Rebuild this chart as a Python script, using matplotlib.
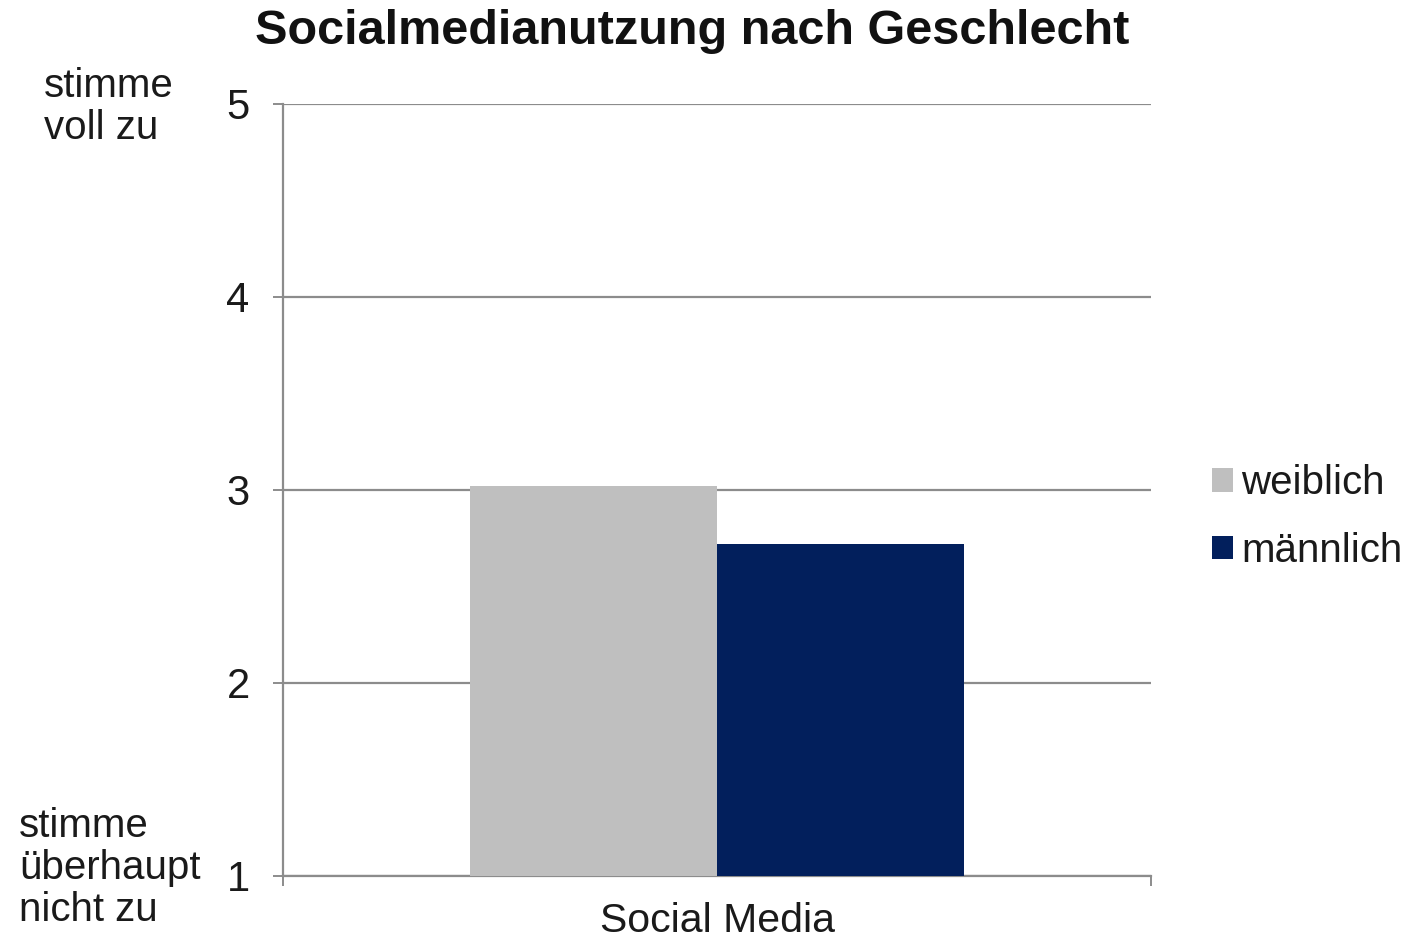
import matplotlib
matplotlib.use('Agg')
import matplotlib.pyplot as plt
from matplotlib.patches import Patch

# Mean agreement (1-5 scale) for social media use, by gender
categories = ['Social Media']
groups = ['weiblich', 'männlich']
values = [3.02, 2.72]
colors = ['#bfbfbf', '#021f5c']
y_ticks = [1, 2, 3, 4, 5]

plt.rcParams['font.family'] = ['Liberation Sans', 'DejaVu Sans']
text_color = '#1a1a1a'
axis_grey = '#8c8c8c'

fig = plt.figure(figsize=(14.13, 9.41), dpi=100)
ax = fig.add_axes([0.2003, 0.0691, 0.6143, 0.8204])

width = 0.285
for i, (g, v, c) in enumerate(zip(groups, values, colors)):
    x = (i - 0.5) * width
    ax.bar(x, v - 1, bottom=1, width=width, color=c, label=g, zorder=3)

ax.set_xlim(-0.5, 0.5)
ax.set_ylim(1, 5)
ax.set_yticks(y_ticks)
ax.set_yticklabels([str(t) for t in y_ticks], fontsize=30, color=text_color)
ax.yaxis.grid(True, color=axis_grey, lw=1.6, zorder=0)
ax.set_axisbelow(True)

# category boundaries get tick marks, the label sits in the middle
ax.set_xticks([-0.5, 0.5])
ax.set_xticklabels(['', ''])
ax.set_xticks([0], minor=True)
ax.set_xticklabels(categories, minor=True, fontsize=29.5, color=text_color)
ax.tick_params(axis='x', which='major', length=7, width=1.4, color=axis_grey, direction='out')
ax.tick_params(axis='x', which='minor', length=0, pad=19)
ax.tick_params(axis='y', length=7, width=1.4, color=axis_grey, direction='out', pad=17)

for side in ('top', 'right'):
    ax.spines[side].set_visible(False)
for side in ('left', 'bottom'):
    ax.spines[side].set_color(axis_grey)
    ax.spines[side].set_linewidth(1.6)

fig.text(0.49, 1 - 31 / 941, 'Socialmedianutzung nach Geschlecht', ha='center', va='center',
         fontsize=35, fontweight='bold', color='#111111')

fig.text(44 / 1413, 1 - 107 / 941, 'stimme\nvoll zu', ha='left', va='center',
         fontsize=29, color=text_color, linespacing=1.12)
fig.text(19 / 1413, 1 - 868 / 941, 'stimme\nüberhaupt\nnicht zu', ha='left', va='center',
         fontsize=29, color=text_color, linespacing=1.12)

handles = [Patch(facecolor=c, edgecolor='none') for c in colors]
fig.legend(handles, groups, loc='center left', bbox_to_anchor=(1176 / 1413, 1 - 517 / 941),
           frameon=False, fontsize=29, handlelength=0.52, handleheight=0.52,
           handletextpad=0.2, labelspacing=0.74, labelcolor=text_color)

fig.savefig('out.png', dpi=100)
